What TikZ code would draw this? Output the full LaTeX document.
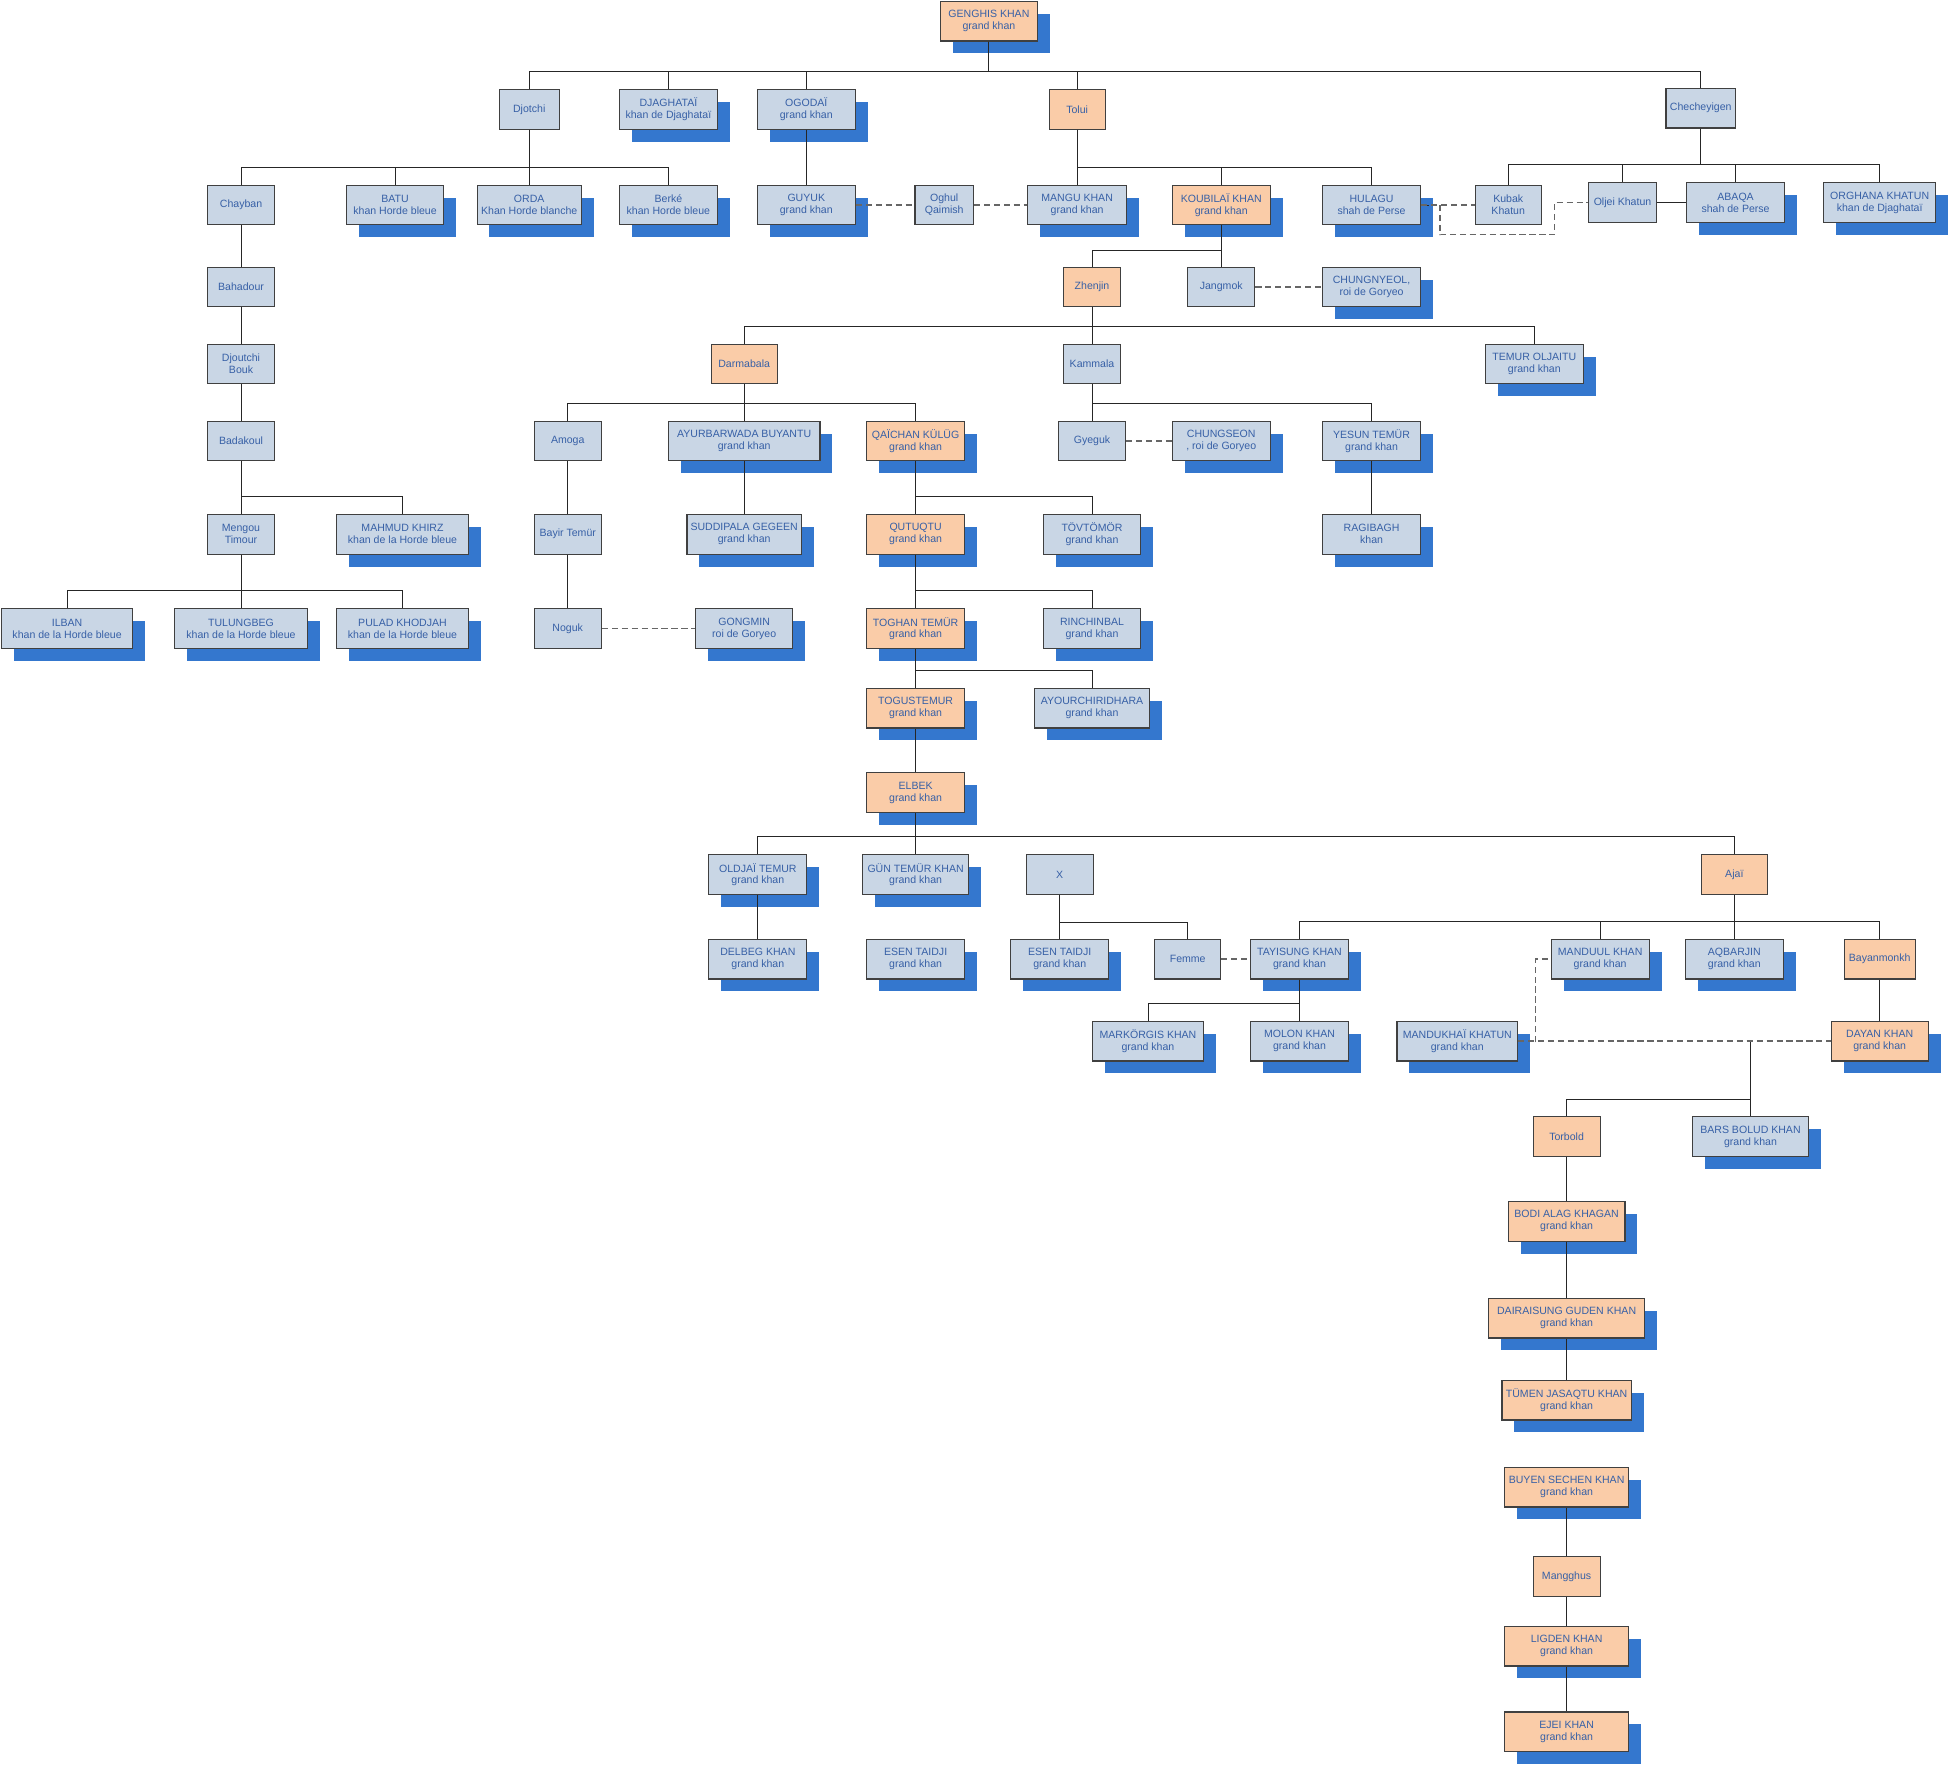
\documentclass[tikz,border=0pt]{standalone}
\usepackage{fontspec}
\setmainfont{Liberation Sans}
\usetikzlibrary{shapes,shadows}
\usepackage{xcolor}
\definecolor{boxblue}{RGB}{201,214,229}
\definecolor{boxorange}{RGB}{250,204,168}
\definecolor{shadowblue}{RGB}{52,119,206}
\definecolor{nameblue}{RGB}{55,96,166}

\begin{document}
\begin{tikzpicture}[x=1pt,y=-1pt]
  \tikzstyle{person}=[rectangle,draw=black!75,line width=0.9pt,fill=boxblue,text=nameblue,align=center,minimum height=32pt,inner sep=1pt,font=\fontsize{8.5}{9.5}\selectfont]
  \tikzstyle{heir}=[person,fill=boxorange]
  \tikzstyle{ruler}=[general shadow={fill=shadowblue,shadow xshift=10pt,shadow yshift=-10pt}]
  \tikzstyle{descent}=[draw=black!85,line width=0.7pt]
  \tikzstyle{marriage}=[draw=black!60,line width=1pt,dash pattern=on 5pt off 3pt]
  \tikzset{wd/.style={minimum width=#1pt}}
  \useasboundingbox (0,0) rectangle (1568,1422);

  \node[heir,ruler,wd=78] (genghis) at (796,17) {GENGHIS KHAN\\grand khan};

  \node[person,wd=48] (djotchi) at (426,88) {Djotchi};
  \node[person,ruler,wd=79] (djaghatai) at (538,88) {DJAGHATAÏ\\khan de Djaghataï};
  \node[person,ruler,wd=79] (ogodai) at (649,88) {OGODAÏ\\grand khan};
  \node[heir,wd=45] (tolui) at (867,88) {Tolui};
  \node[person,wd=56] (checheyigen) at (1369,87) {Checheyigen};

  \node[person,wd=54] (chayban) at (194,165) {Chayban};
  \node[person,ruler,wd=78] (batu) at (318,165) {BATU\\khan Horde bleue};
  \node[person,ruler,wd=84] (orda) at (426,165) {ORDA\\Khan Horde blanche};
  \node[person,ruler,wd=79] (berke) at (538,165) {Berké\\khan Horde bleue};
  \node[person,ruler,wd=79] (guyuk) at (649,165) {GUYUK\\grand khan};
  \node[person,wd=47] (oghul) at (760,165) {Oghul\\Qaimish};
  \node[person,ruler,wd=80] (mangu) at (867,165) {MANGU KHAN\\grand khan};
  \node[heir,ruler,wd=79] (koubilai) at (983,165) {KOUBILAÏ KHAN\\grand khan};
  \node[person,ruler,wd=79] (hulagu) at (1104,165) {HULAGU\\shah de Perse};
  \node[person,wd=53] (kubak) at (1214,165) {Kubak\\Khatun};
  \node[person,wd=55] (oljei) at (1306,163) {Oljei Khatun};
  \node[person,ruler,wd=79] (abaqa) at (1397,163) {ABAQA\\shah de Perse};
  \node[person,ruler,wd=90] (orghana) at (1513,163) {ORGHANA KHATUN\\khan de Djaghataï};

  \node[person,wd=54] (bahadour) at (194,231) {Bahadour};
  \node[heir,wd=46] (zhenjin) at (879,231) {Zhenjin};
  \node[person,wd=54] (jangmok) at (983,231) {Jangmok};
  \node[person,ruler,wd=79] (chungnyeol) at (1104,231) {CHUNGNYEOL,\\roi de Goryeo};

  \node[person,wd=54] (djoutchibouk) at (194,293) {Djoutchi\\Bouk};
  \node[heir,wd=53] (darmabala) at (599,293) {Darmabala};
  \node[person,wd=46] (kammala) at (879,293) {Kammala};
  \node[person,ruler,wd=79] (temuroljaitu) at (1235,293) {TEMUR OLJAITU\\grand khan};

  \node[person,wd=54] (badakoul) at (194,355) {Badakoul};
  \node[person,wd=54] (amoga) at (457,355) {Amoga};
  \node[person,ruler,wd=122] (ayurbarwada) at (599,355) {AYURBARWADA BUYANTU\\grand khan};
  \node[heir,ruler,wd=79] (qaichan) at (737,355) {QAÏCHAN KÜLÜG\\grand khan};
  \node[person,wd=54] (gyeguk) at (879,355) {Gyeguk};
  \node[person,ruler,wd=79] (chungseon) at (983,355) {CHUNGSEON\\, roi de Goryeo};
  \node[person,ruler,wd=79] (yesun) at (1104,355) {YESUN TEMÜR\\grand khan};

  \node[person,wd=54] (mengou) at (194,430) {Mengou\\Timour};
  \node[person,ruler,wd=106] (mahmud) at (324,430) {MAHMUD KHIRZ\\khan de la Horde bleue};
  \node[person,wd=54] (bayir) at (457,430) {Bayir Temür};
  \node[person,ruler,wd=92] (suddipala) at (599,430) {SUDDIPALA GEGEEN\\grand khan};
  \node[heir,ruler,wd=79] (qutuqtu) at (737,430) {QUTUQTU\\grand khan};
  \node[person,ruler,wd=78] (tovtomor) at (879,430) {TÖVTÖMÖR\\grand khan};
  \node[person,ruler,wd=79] (ragibagh) at (1104,430) {RAGIBAGH\\khan};

  \node[person,ruler,wd=106] (ilban) at (54,506) {ILBAN\\khan de la Horde bleue};
  \node[person,ruler,wd=107] (tulungbeg) at (194,506) {TULUNGBEG\\khan de la Horde bleue};
  \node[person,ruler,wd=106] (pulad) at (324,506) {PULAD KHODJAH\\khan de la Horde bleue};
  \node[person,wd=54] (noguk) at (457,506) {Noguk};
  \node[person,ruler,wd=78] (gongmin) at (599,506) {GONGMIN\\roi de Goryeo};
  \node[heir,ruler,wd=79] (toghan) at (737,506) {TOGHAN TEMÜR\\grand khan};
  \node[person,ruler,wd=78] (rinchinbal) at (879,506) {RINCHINBAL\\grand khan};

  \node[heir,ruler,wd=79] (togustemur) at (737,570) {TOGUSTEMUR\\grand khan};
  \node[person,ruler,wd=93] (ayourchiridhara) at (879,570) {AYOURCHIRIDHARA\\grand khan};

  \node[heir,ruler,wd=79] (elbek) at (737,638) {ELBEK\\grand khan};

  \node[person,ruler,wd=79] (oldjai) at (610,704) {OLDJAÏ TEMUR\\grand khan};
  \node[person,ruler,wd=85] (guntemur) at (737,704) {GÜN TEMÜR KHAN\\grand khan};
  \node[person,wd=54] (xperson) at (853,704) {X};
  \node[heir,wd=53] (ajai) at (1396,704) {Ajaï};

  \node[person,ruler,wd=79] (delbeg) at (610,772) {DELBEG KHAN\\grand khan};
  \node[person,ruler,wd=79] (esen) at (737,772) {ESEN TAIDJI\\grand khan};
  \node[person,ruler,wd=79] (esentwo) at (853,772) {ESEN TAIDJI\\grand khan};
  \node[person,wd=53] (femme) at (956,772) {Femme};
  \node[person,ruler,wd=79] (tayisung) at (1046,772) {TAYISUNG KHAN\\grand khan};
  \node[person,ruler,wd=79] (manduul) at (1288,772) {MANDUUL KHAN\\grand khan};
  \node[person,ruler,wd=79] (aqbarjin) at (1396,772) {AQBARJIN\\grand khan};
  \node[heir,wd=57] (bayanmonkh) at (1513,772) {Bayanmonkh};

  \node[person,ruler,wd=89] (markorgis) at (924,838) {MARKÖRGIS KHAN\\grand khan};
  \node[person,ruler,wd=79] (molon) at (1046,838) {MOLON KHAN\\grand khan};
  \node[person,ruler,wd=97] (mandukhai) at (1173,838) {MANDUKHAÏ KHATUN\\grand khan};
  \node[heir,ruler,wd=78] (dayan) at (1513,838) {DAYAN KHAN\\grand khan};

  \node[heir,wd=54] (torbold) at (1261,915) {Torbold};
  \node[person,ruler,wd=94] (bars) at (1409,915) {BARS BOLUD KHAN\\grand khan};
  \node[heir,ruler,wd=94] (bodi) at (1261,983) {BODI ALAG KHAGAN\\grand khan};
  \node[heir,ruler,wd=126] (dairaisung) at (1261,1061) {DAIRAISUNG GUDEN KHAN\\grand khan};
  \node[heir,ruler,wd=104] (tumen) at (1261,1127) {TÜMEN JASAQTU KHAN\\grand khan};
  \node[heir,ruler,wd=100] (buyen) at (1261,1197) {BUYEN SECHEN KHAN\\grand khan};
  \node[heir,wd=54] (mangghus) at (1261,1269) {Mangghus};
  \node[heir,ruler,wd=100] (ligden) at (1261,1325) {LIGDEN KHAN\\grand khan};
  \node[heir,ruler,wd=100] (ejei) at (1261,1394) {EJEI KHAN\\grand khan};

  \coordinate (hk) at (1159,165);
  \coordinate (ho) at (1251,189);
  \coordinate (mm) at (1236,839);
  \coordinate (md) at (1409,839);

  \draw[descent] (genghis.south) -- ++(0,24) -| (djotchi.north);
  \draw[descent] (genghis.south) -- ++(0,24) -| (djaghatai.north);
  \draw[descent] (genghis.south) -- ++(0,24) -| (ogodai.north);
  \draw[descent] (genghis.south) -- ++(0,24) -| (tolui.north);
  \draw[descent] (genghis.south) -- ++(0,24) -| (checheyigen.north);

  \draw[descent] (djotchi.south) -- ++(0,30) -| (chayban.north);
  \draw[descent] (djotchi.south) -- ++(0,30) -| (batu.north);
  \draw[descent] (djotchi.south) -- (orda.north);
  \draw[descent] (djotchi.south) -- ++(0,30) -| (berke.north);
  \draw[descent] (ogodai) -- (guyuk);
  \draw[descent] (tolui.south) -- (mangu.north);
  \draw[descent] (tolui.south) -- ++(0,30) -| (koubilai.north);
  \draw[descent] (tolui.south) -- ++(0,30) -| (hulagu.north);
  \draw[descent] (checheyigen.south) -- ++(0,29) -| (kubak.north);
  \draw[descent] (checheyigen.south) -- ++(0,29) -| (oljei.north);
  \draw[descent] (checheyigen.south) -- ++(0,29) -| (abaqa.north);
  \draw[descent] (checheyigen.south) -- ++(0,29) -| (orghana.north);

  \draw[descent] (chayban) -- (bahadour);
  \draw[descent] (bahadour) -- (djoutchibouk);
  \draw[descent] (djoutchibouk) -- (badakoul);
  \draw[descent] (badakoul) -- (mengou);
  \draw[descent] (badakoul.south) -- ++(0,28) -| (mahmud.north);
  \draw[descent] (mengou.south) -- ++(0,29) -| (ilban.north);
  \draw[descent] (mengou) -- (tulungbeg);
  \draw[descent] (mengou.south) -- ++(0,29) -| (pulad.north);

  \draw[descent] (koubilai) -- (jangmok);
  \draw[descent] (koubilai.south) -- ++(0,20) -| (zhenjin.north);
  \draw[descent] (zhenjin.south) -- ++(0,15) -| (darmabala.north);
  \draw[descent] (zhenjin) -- (kammala);
  \draw[descent] (zhenjin.south) -- ++(0,15) -| (temuroljaitu.north);

  \draw[descent] (darmabala.south) -- ++(0,15) -| (amoga.north);
  \draw[descent] (darmabala) -- (ayurbarwada);
  \draw[descent] (darmabala.south) -- ++(0,15) -| (qaichan.north);
  \draw[descent] (kammala) -- (gyeguk);
  \draw[descent] (kammala.south) -- ++(0,15) -| (yesun.north);

  \draw[descent] (amoga) -- (bayir);
  \draw[descent] (bayir) -- (noguk);
  \draw[descent] (ayurbarwada) -- (suddipala);
  \draw[descent] (qaichan) -- (qutuqtu);
  \draw[descent] (qaichan.south) -- ++(0,28) -| (tovtomor.north);
  \draw[descent] (yesun) -- (ragibagh);
  \draw[descent] (qutuqtu) -- (toghan);
  \draw[descent] (qutuqtu.south) -- ++(0,29) -| (rinchinbal.north);
  \draw[descent] (toghan) -- (togustemur);
  \draw[descent] (toghan.south) -- ++(0,17) -| (ayourchiridhara.north);
  \draw[descent] (togustemur) -- (elbek);

  \draw[descent] (elbek.south) -- ++(0,19) -| (oldjai.north);
  \draw[descent] (elbek) -- (guntemur);
  \draw[descent] (elbek.south) -- ++(0,19) -| (ajai.north);
  \draw[descent] (oldjai) -- (delbeg);
  \draw[descent] (xperson) -- (esentwo);
  \draw[descent] (xperson.south) -- ++(0,22) -| (femme.north);
  \draw[descent] (ajai.south) -- ++(0,21) -| (tayisung.north);
  \draw[descent] (ajai.south) -- ++(0,21) -| (manduul.north);
  \draw[descent] (ajai) -- (aqbarjin);
  \draw[descent] (ajai.south) -- ++(0,21) -| (bayanmonkh.north);
  \draw[descent] (tayisung.south) -- ++(0,19) -| (markorgis.north);
  \draw[descent] (tayisung) -- (molon);
  \draw[descent] (bayanmonkh) -- (dayan);

  \draw[descent] (md) -- ++(0,46) -| (torbold.north);
  \draw[descent] (md) -- (bars.north);
  \draw[descent] (torbold) -- (bodi);
  \draw[descent] (bodi) -- (dairaisung);
  \draw[descent] (dairaisung) -- (tumen);
  \draw[descent] (buyen) -- (mangghus);
  \draw[descent] (mangghus) -- (ligden);
  \draw[descent] (ligden) -- (ejei);

  \draw[marriage] (guyuk) -- (oghul);
  \draw[marriage] (oghul) -- (mangu);
  \draw[descent] (hulagu.east) -- ++(6,0);
  \draw[marriage] (hulagu.east) -- (hk) |- (kubak.west);
  \draw[marriage] (hk) |- (ho) |- (oljei.west);
  \draw[descent] (oljei) -- (abaqa);
  \draw[marriage] (jangmok) -- (chungnyeol);
  \draw[marriage] (gyeguk) -- (chungseon);
  \draw[marriage] (noguk) -- (gongmin);
  \draw[marriage] (femme) -- (tayisung);
  \draw[marriage] (mandukhai.east) -- (dayan.west);
  \draw[marriage] (mm) |- (manduul.west);
\end{tikzpicture}
\end{document}
